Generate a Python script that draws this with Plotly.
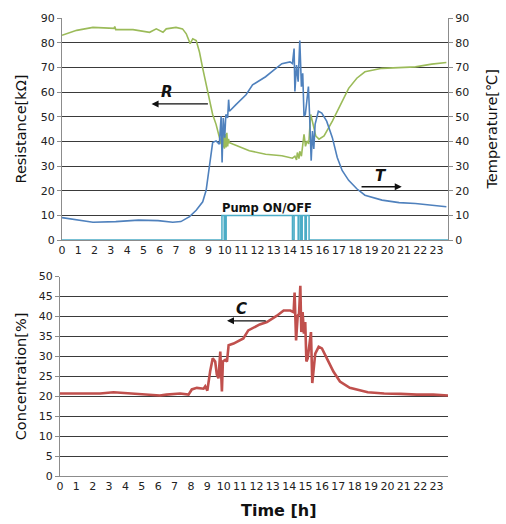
import plotly.graph_objects as go

# ---------------- data ----------------
hours_ticks = list(range(0, 24))

# R (green, left axis of top chart)
r_time = [0, 0.9, 1.9, 2.6, 3.2, 3.24, 3.3, 4.36, 5.38, 5.79, 6.2, 6.4, 7.0, 7.4, 7.63, 7.87, 8.03,
          8.24, 8.44, 8.64, 8.85, 9.05, 9.25, 9.46, 9.66, 9.77, 9.82, 9.87, 9.92, 9.97, 10.02, 10.07,
          10.12, 10.17, 10.22, 10.28, 10.48, 11.5, 12.5, 13.5, 14.15, 14.3, 14.4, 14.45, 14.55, 14.6,
          14.7, 14.76, 14.86, 14.95, 15.05, 15.15, 15.27, 15.37, 15.47, 15.58, 15.78, 16.09, 16.6,
          17.1, 17.6, 18.1, 18.6, 19.65, 20.7, 21.7, 22.7, 23.6]
r_val = [83, 85, 86.2, 86, 85.8, 86.6, 85.3, 85.3, 84.2, 85.6, 84.2, 85.6, 86.2, 85.6, 83.6, 79.6, 81.6,
         80.9, 76.2, 69.6, 62.9, 56.2, 50.9, 46.9, 42.2, 38.9, 44.5, 37.5, 45, 37, 43, 37.5,
         43.5, 38, 41, 39.5, 38.9, 36.2, 34.8, 34.2, 33.2, 34, 32.5, 35.5, 33, 36,
         34, 38.2, 42.9, 38, 40.2, 39, 50.9, 48.2, 45, 42.2, 40.9, 42.2, 48.2,
         54.9, 61.5, 65.6, 68.2, 69.6, 70.0, 70.2, 71.3, 72.0]

# T (blue, right axis of top chart)
t_time = [0, 0.9, 1.9, 3.3, 4.7, 5.9, 6.8, 7.3, 7.83, 8.24, 8.64, 8.85, 9.05, 9.25, 9.46, 9.66, 9.77,
          9.83, 9.9, 9.99, 10.06, 10.17, 10.23, 10.28, 10.68, 11.3, 11.7, 12.1, 12.5, 13.0, 13.5,
          14.0, 14.15, 14.25, 14.3, 14.4, 14.5, 14.6, 14.65, 14.7, 14.78, 14.86, 14.94, 15.06,
          15.13, 15.2, 15.3, 15.38, 15.46, 15.54, 15.74, 15.95, 16.25, 16.6, 16.9, 17.2, 17.6,
          18.1, 18.6, 19.65, 20.7, 21.7, 22.7, 23.6]
t_val = [9.1, 8.1, 7.2, 7.5, 8.1, 7.9, 7.2, 7.5, 9.5, 12.1, 15.5, 20.2, 30.8, 39.5, 40.2, 38.9, 50.2,
         31.5, 49.5, 41.5, 50.9, 49.5, 56.9, 52.2, 54.9, 58.9, 62.9, 64.5, 66.2, 68.9, 71.5,
         72.2, 71.5, 77.6, 60.2, 70.9, 64.2, 80.9, 70.9, 62.2, 67.6, 50.2, 50.9, 58.9,
         62.2, 50.9, 32.2, 44.2, 36.9, 46.9, 52.2, 51.5, 48.2, 41.5, 33.5, 28.2, 24.2,
         20.8, 18.2, 16.2, 15.2, 14.8, 14.2, 13.5]

# Pump ON/OFF (cyan, step signal)
pump_time = [0, 9.82, 9.96, 10.0, 10.05, 10.08, 14.15, 14.25, 14.5, 14.55, 14.66, 14.75, 14.92,
             15.0, 15.17, 23.7]
pump_val = [0, 10, 0, 10, 0, 10, 0, 10, 0, 10, 0, 10, 0, 10, 0, 0]

# C (red, bottom chart)
c_time = [0, 2.45, 3.27, 4.5, 5.5, 6.1, 6.5, 7.34, 7.85, 8.05, 8.36, 8.77, 8.87, 9.0, 9.17, 9.33,
          9.48, 9.58, 9.68, 9.79, 9.89, 9.95, 10.09, 10.2, 10.3, 10.6, 11.2, 11.5, 12.2, 12.64,
          13.25, 13.66, 14.07, 14.27, 14.33, 14.42, 14.52, 14.6, 14.68, 14.74, 14.82, 14.9, 14.98,
          15.05, 15.13, 15.25, 15.33, 15.41, 15.49, 15.59, 15.8, 16.0, 16.3, 16.7, 17.1, 17.7,
          18.8, 19.8, 20.8, 21.8, 22.8, 23.7]
c_val = [20.7, 20.7, 21.0, 20.7, 20.4, 20.2, 20.4, 20.7, 20.4, 21.7, 22.1, 21.9, 22.5, 21.4, 26.2, 29.5,
         28.7, 25.4, 24.5, 31.2, 21.2, 28.7, 29.1, 28.7, 32.8, 33.2, 34.5, 36.5, 38.0, 38.6,
         40.2, 41.5, 41.5, 41.1, 46.0, 34.0, 40.2, 40.7, 47.7, 36.1, 41.1, 35.7, 38.6,
         28.7, 29.5, 34.5, 36.1, 23.3, 26.2, 30.7, 32.4, 32.0, 29.5, 26.2, 23.7, 22.1,
         21.0, 20.7, 20.6, 20.4, 20.4, 20.2]

top_ticks = list(range(0, 91, 10))
bottom_ticks = list(range(0, 51, 5))

# ---------------- figure ----------------
W, H = 506, 524
S_LEFT, S_RIGHT, S_TOP, S_BOTTOM = 60, 448, 12, 476
ML = S_LEFT
MT = S_TOP
MR = W - S_RIGHT
MB = H - S_BOTTOM
PH = H - MT - MB
PW = W - ML - MR

def py(p):
    return (S_BOTTOM - p) / PH

def px(p):
    return (p - S_LEFT) / PW

GREEN = "#9BBB59"
BLUE = "#4F81BD"
CYAN = "#4BACC6"
RED = "#C0504D"
GRID = "#3a3a3a"
AXIS = "#8c8c8c"
FONT = "DejaVu Sans"

fig = go.Figure()
fig.add_trace(go.Scatter(x=pump_time, y=pump_val, mode="lines", line=dict(color=CYAN, width=1.5, shape="hv"),
                         xaxis="x", yaxis="y2", showlegend=False))
fig.add_trace(go.Scatter(x=r_time, y=r_val, mode="lines", line=dict(color=GREEN, width=1.6),
                         xaxis="x", yaxis="y", showlegend=False))
fig.add_trace(go.Scatter(x=t_time, y=t_val, mode="lines", line=dict(color=BLUE, width=1.6),
                         xaxis="x", yaxis="y2", showlegend=False))
fig.add_trace(go.Scatter(x=c_time, y=c_val, mode="lines", line=dict(color=RED, width=2.6),
                         xaxis="x2", yaxis="y3", showlegend=False))

top_dom = [py(237), 1.0]
bot_dom = [0.0, py(274)]
xrange_ = [0, 23.7]

tickfont = dict(family=FONT, size=11, color="#222")

fig.update_layout(
    width=W, height=H,
    margin=dict(l=ML, r=MR, t=MT, b=MB),
    paper_bgcolor="white", plot_bgcolor="white",
    font=dict(family=FONT, color="#111"),
    xaxis=dict(domain=[px(62), 1.0], range=xrange_, tickvals=hours_ticks, ticktext=[str(h) for h in hours_ticks],
               showgrid=False, zeroline=False, showline=True, linecolor=AXIS, linewidth=1,
               tickfont=tickfont, ticks="", ticklen=0, anchor="y"),
    yaxis=dict(domain=top_dom, range=[0, 90], tickvals=top_ticks, showgrid=True, gridcolor=GRID, gridwidth=1,
               zeroline=False, showline=True, linecolor=AXIS, ticks="outside", ticklen=4, tickcolor=AXIS,
               tickfont=tickfont, anchor="x"),
    yaxis2=dict(domain=top_dom, range=[0, 90], tickvals=top_ticks, overlaying="y", side="right",
                showgrid=False, zeroline=False, showline=True, linecolor=AXIS, ticks="outside", ticklen=4,
                tickcolor=AXIS, tickfont=tickfont, anchor="x"),
    xaxis2=dict(domain=[0, 1.0], range=xrange_, tickvals=hours_ticks, ticktext=[str(h) for h in hours_ticks],
                showgrid=False, zeroline=False, showline=True, linecolor=AXIS, linewidth=1,
                tickfont=tickfont, ticks="", ticklen=0, anchor="y3"),
    yaxis3=dict(domain=bot_dom, range=[0, 50], tickvals=bottom_ticks, showgrid=True, gridcolor=GRID, gridwidth=1,
                zeroline=False, showline=True, linecolor=AXIS, ticks="outside", ticklen=4, tickcolor=AXIS,
                tickfont=tickfont, anchor="x2"),
)

annotations = [
    # axis titles
    dict(text="Resistance[kΩ]", x=px(21), y=py(125), xref="paper", yref="paper", textangle=-90,
         xanchor="center", yanchor="middle",
         showarrow=False, font=dict(family=FONT, size=14.5, color="#111")),
    dict(text="Temperature[℃]", x=px(492), y=py(125), xref="paper", yref="paper", textangle=-90,
         xanchor="center", yanchor="middle",
         showarrow=False, font=dict(family=FONT, size=14.5, color="#111")),
    dict(text="Concentration[%]", x=px(21), y=py(375), xref="paper", yref="paper", textangle=-90,
         xanchor="center", yanchor="middle",
         showarrow=False, font=dict(family=FONT, size=14.5, color="#111")),
    dict(text="<b>Time [h]</b>", x=px(279), y=py(511), xref="paper", yref="paper",
         xanchor="center", yanchor="middle",
         showarrow=False, font=dict(family=FONT, size=16, color="#111")),
    # labels
    dict(text="<b><i>R</i></b>", x=6.42, y=60, xref="x", yref="y", showarrow=False,
         font=dict(family=FONT, size=15, color="#111")),
    dict(text="<b><i>T</i></b>", x=19.6, y=26, xref="x", yref="y", showarrow=False,
         font=dict(family=FONT, size=15, color="#111")),
    dict(text="<b><i>C</i></b>", x=11.1, y=41.8, xref="x2", yref="y3", showarrow=False,
         font=dict(family=FONT, size=15, color="#111")),
    dict(text="<b>Pump ON/OFF</b>", x=12.57, y=13.2, xref="x", yref="y", showarrow=False,
         font=dict(family=FONT, size=11.5, color="#111")),
    # arrows
    dict(x=5.5, y=55.2, ax=9.05, ay=55.2, xref="x", yref="y", axref="x", ayref="y", text="",
         showarrow=True, arrowhead=2, arrowsize=1, arrowwidth=1.4, arrowcolor="#111"),
    dict(x=20.86, y=21.6, ax=18.3, ay=21.6, xref="x", yref="y", axref="x", ayref="y", text="",
         showarrow=True, arrowhead=2, arrowsize=1, arrowwidth=1.4, arrowcolor="#111"),
    dict(x=10.2, y=38.9, ax=12.66, ay=38.9, xref="x2", yref="y3", axref="x2", ayref="y3", text="",
         showarrow=True, arrowhead=2, arrowsize=1, arrowwidth=1.4, arrowcolor="#111"),
]
fig.update_layout(annotations=annotations)

fig.write_html("out.html", config={"displayModeBar": False},
               post_script="document.body.style.margin='0px';")
